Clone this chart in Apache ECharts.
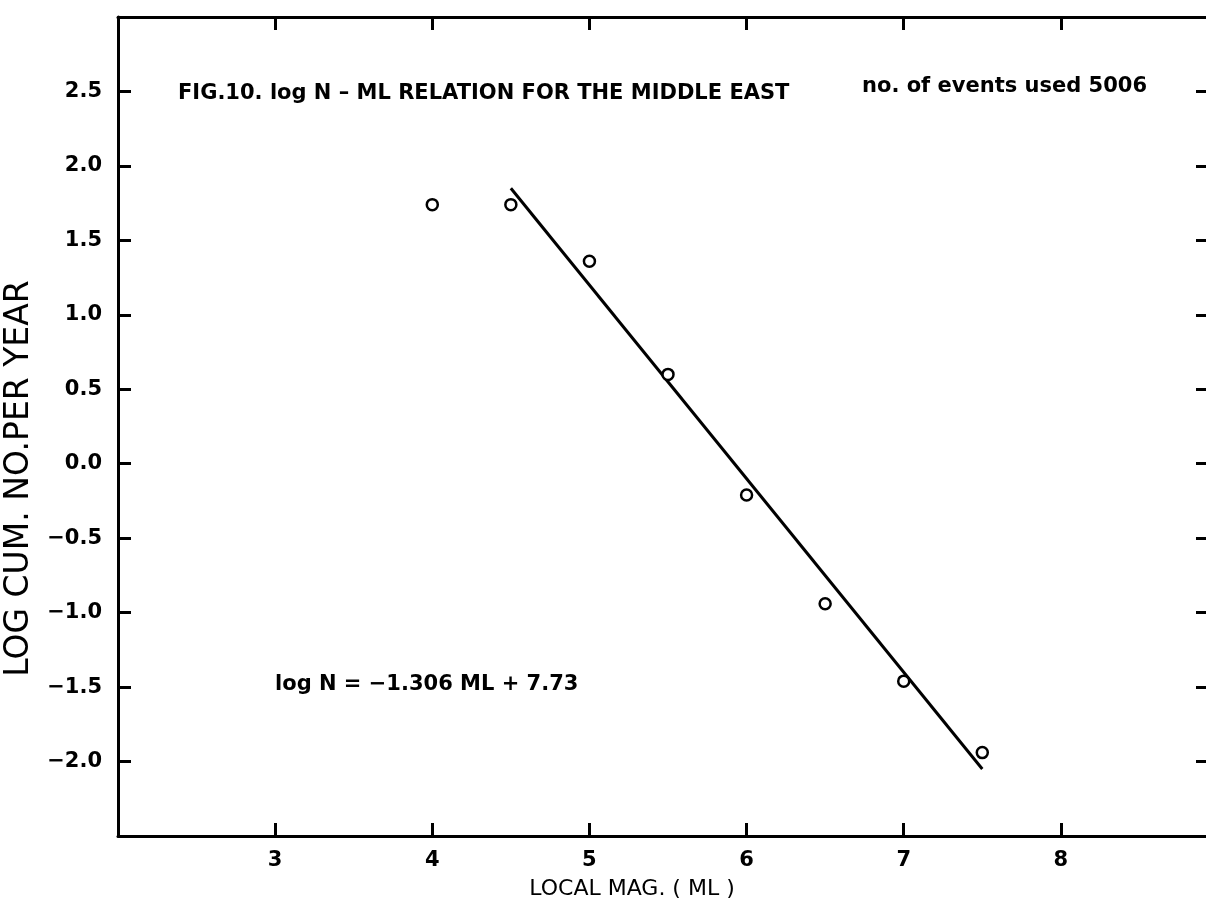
<!DOCTYPE html>
<html><head><meta charset="utf-8">
<script src="https://cdn.jsdelivr.net/npm/echarts@6/dist/echarts.min.js"></script>
<style>html,body{margin:0;padding:0;background:#fff}#c{width:1206px;height:912px}</style>
</head><body><div id="c"></div>
<script>
// Observed points (local magnitude vs log cumulative number per year)
const magnitudes = [4.0, 4.5, 5.0, 5.5, 6.0, 6.5, 7.0, 7.5];
const logCumN    = [1.74, 1.74, 1.36, 0.60, -0.21, -0.94, -1.46, -1.94];
// Fitted line end points (log N = -1.306 ML + 7.73)
const fitML   = [4.5, 7.5];
const fitLogN = [1.85, -2.05];
// Texts
const titleText = 'FIG.10. log N \u2013 ML RELATION FOR THE MIDDLE EAST';
const eventsText = 'no. of events used 5006';
const equationText = 'log N = \u22121.306 ML + 7.73';
const xName = 'LOCAL MAG. ( ML )';
const yName = 'LOG CUM. NO.PER YEAR';

const pts = magnitudes.map((m, i) => [m, logCumN[i]]);
const fit = fitML.map((m, i) => [m, fitLogN[i]]);

const FONT = 'DejaVu Sans';
const axisLine = { show: true, onZero: false, lineStyle: { color: '#000', width: 3 } };
const axisTick = { show: true, inside: true, length: 13, lineStyle: { color: '#000', width: 3 } };
const rightTick = { show: true, inside: true, length: 22, lineStyle: { color: '#000', width: 3 } };

const chart = echarts.init(document.getElementById('c'), null, { renderer: 'canvas' });
chart.setOption({
  backgroundColor: '#fff',
  animation: false,
  grid: { left: 118, top: 17, right: -12, bottom: 76, containLabel: false, outerBoundsMode: 'none' },
  xAxis: [{
    type: 'value', position: 'bottom', min: 2, max: 9, interval: 1,
    axisLine, axisTick, splitLine: { show: false },
    axisLabel: { show: true, showMinLabel: false, showMaxLabel: false, margin: 14,
      color: '#000', fontFamily: FONT, fontWeight: 'bold', fontSize: 21 },
    name: xName, nameLocation: 'middle', nameGap: 42,
    nameTextStyle: { color: '#000', fontFamily: FONT, fontSize: 22, padding: [0, 72, 0, 0] }
  }, {
    type: 'value', position: 'top', min: 2, max: 9, interval: 1,
    axisLine, axisTick, splitLine: { show: false }, axisLabel: { show: false }
  }],
  yAxis: [{
    type: 'value', position: 'left', min: -2.5, max: 3, interval: 0.5,
    axisLine, axisTick, splitLine: { show: false },
    axisLabel: { show: true, showMinLabel: false, showMaxLabel: false, margin: 16,
      color: '#000', fontFamily: FONT, fontWeight: 'bold', fontSize: 21,
      formatter: v => (v < 0 ? '\u2212' : '') + Math.abs(v).toFixed(1) },
    name: yName, nameLocation: 'middle', nameGap: 76,
    nameTextStyle: { color: '#000', fontFamily: FONT, fontSize: 33, padding: [0, 104, 0, 0] }
  }, {
    type: 'value', position: 'right', min: -2.5, max: 3, interval: 0.5,
    axisLine, axisTick: rightTick, splitLine: { show: false }, axisLabel: { show: false }
  }],
  series: [{
    type: 'line', data: fit, xAxisIndex: 0, yAxisIndex: 0,
    symbol: 'none', lineStyle: { color: '#000', width: 3 }, z: 2
  }, {
    type: 'scatter', data: pts, xAxisIndex: 0, yAxisIndex: 0,
    symbol: 'circle', symbolSize: 11,
    itemStyle: { color: '#fff', borderColor: '#000', borderWidth: 2.5, opacity: 1 }, z: 3
  }],
  graphic: [
    { type: 'text', left: 178, top: 83, style: { text: titleText, fill: '#000',
      font: 'bold 21px "DejaVu Sans"' } },
    { type: 'text', left: 862, top: 76, style: { text: eventsText, fill: '#000',
      font: 'bold 21px "DejaVu Sans"' } },
    { type: 'text', left: 275, top: 674, style: { text: equationText, fill: '#000',
      font: 'bold 21px "DejaVu Sans"' } }
  ]
});
</script>
</body></html>
